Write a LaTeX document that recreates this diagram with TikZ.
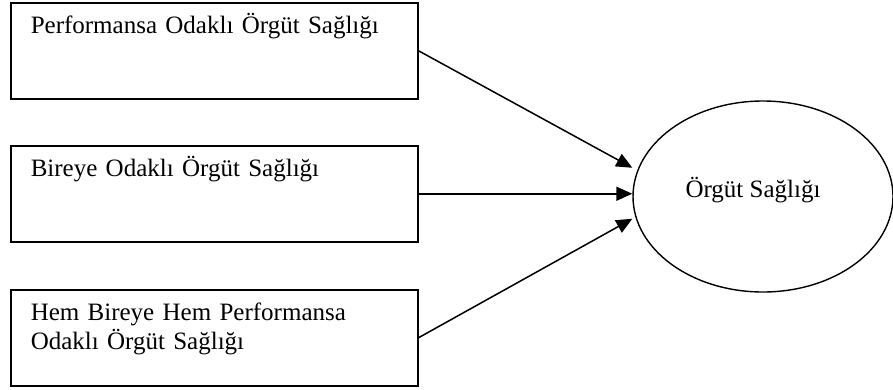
\documentclass[tikz,border=0pt]{standalone}
\usepackage{fontspec}
\setmainfont{Liberation Serif}
\usetikzlibrary{arrows.meta,shapes.geometric}
\begin{document}
\begin{tikzpicture}[x=1pt,y=-1pt,
  every node/.style={font=\fontsize{25pt}{29pt}\selectfont},
  box/.style={draw, line width=1.5pt, rectangle, anchor=north west,
    inner xsep=20pt, inner ysep=0pt, text width=367pt, align=left,
    text height=31pt, text depth=65pt},
  oval/.style={draw, line width=1.4pt, ellipse, minimum width=260pt,
    minimum height=191pt, inner sep=0pt},
  arr/.style={line width=1.5pt, -{Triangle[length=16pt,width=14pt]}}]
\useasboundingbox (0,0) rectangle (893,389);
\node[box] (b1) at (10,2) {Performansa Odaklı Örgüt Sağlığı};
\node[box] (b2) at (10,145) {Bireye Odaklı Örgüt Sağlığı};
\node[box] (b3) at (10,289) {Hem Bireye Hem Performansa\\Odaklı Örgüt Sağlığı};
\node[oval, label={[inner sep=0pt, label distance=0pt, xshift=-10pt, yshift=6pt]center:Örgüt Sağlığı}] (e) at (763,196.5) {};
\coordinate (t2) at (e.west |- b2.east);
\coordinate (t1) at ([yshift=26pt]t2);
\coordinate (t3) at ([yshift=-25pt]t2);
\draw[arr] (b1.east) -- (t1);
\draw[arr] (b2.east) -- (t2);
\draw[arr] (b3.east) -- (t3);
\end{tikzpicture}
\end{document}
